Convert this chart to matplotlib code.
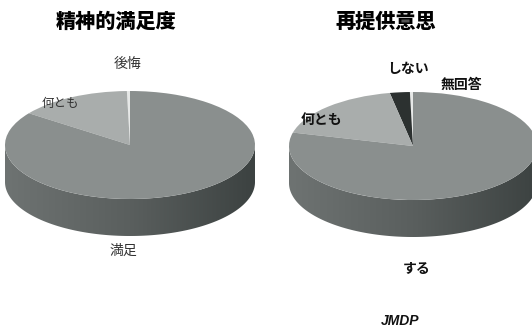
import matplotlib
matplotlib.use("Agg")
import matplotlib.pyplot as plt
import numpy as np
from matplotlib.patches import Polygon
from matplotlib.colors import LinearSegmentedColormap

plt.rcParams['font.family'] = ['Noto Sans CJK JP', 'DejaVu Sans']

W, H = 532, 329

# data
left_title = "精神的満足度"
left_labels = ["後悔", "何とも", "満足"]
left_values = [0.4, 14.6, 85.0]
left_colors = ["#e6e8e7", "#a9adac", "#8a8f8e"]

right_title = "再提供意思"
right_labels = ["無回答", "しない", "何とも", "する"]
right_values = [0.4, 2.6, 18.0, 79.0]
right_colors = ["#e6e8e7", "#2c3130", "#a9adac", "#8a8f8e"]

side_cmap = LinearSegmentedColormap.from_list("side", ["#6e7372", "#5a5f5e", "#3c4241"])


def px(x, y):
    return x / W, 1 - y / H


def pie3d(fig, cx, cy, rx, ry, thick, values, colors):
    t = thick / ry
    ax = fig.add_axes([(cx - 1.05 * rx) / W,
                       1 - (cy + (1.05 + t) * ry) / H,
                       2.1 * rx / W,
                       (2.1 + t) * ry / H])
    ax.pie(values, colors=colors, startangle=90, counterclock=True,
           radius=1.0, wedgeprops=dict(linewidth=0))
    ax.set_aspect('auto')
    ax.axis('off')

    # side of the disc (front half), shaded left to right
    th = np.linspace(np.pi, 2 * np.pi, 200)
    top = np.column_stack([np.cos(th), np.sin(th)])
    bot = np.column_stack([np.cos(th[::-1]), np.sin(th[::-1]) - t])
    side = Polygon(np.vstack([top, bot]), closed=True, facecolor="none",
                   edgecolor="none")
    ax.add_patch(side)
    grad = np.linspace(0, 1, 256).reshape(1, -1)
    im = ax.imshow(grad, cmap=side_cmap, extent=(-1, 1, -1 - t, 0),
                   aspect='auto', zorder=0.5)
    im.set_clip_path(side)
    ax.set_xlim(-1.05, 1.05)
    ax.set_ylim(-1.05 - t, 1.05)
    return ax


fig = plt.figure(figsize=(W / 100, H / 100), dpi=100)
fig.patch.set_facecolor("white")

pie3d(fig, 130, 145, 125, 54, 37, left_values, left_colors)
pie3d(fig, 413, 146, 124, 54, 37, right_values, right_colors)

# titles
fig.text(*px(116, 22), left_title, fontsize=14.5, fontweight="heavy",
         ha="center", va="center", color="black")
fig.text(*px(386, 22), right_title, fontsize=14.5, fontweight="heavy",
         ha="center", va="center", color="black")

# left labels
fig.text(*px(128, 64), left_labels[0], fontsize=10, ha="center", va="center", color="#333")
fig.text(*px(60, 103), left_labels[1], fontsize=9, ha="center", va="center", color="#333")
fig.text(*px(123, 251), left_labels[2], fontsize=10, ha="center", va="center", color="#333")

# right labels
fig.text(*px(461, 85), right_labels[0], fontsize=10, fontweight="bold", ha="center", va="center", color="#111")
fig.text(*px(408, 69), right_labels[1], fontsize=10, fontweight="bold", ha="center", va="center", color="#111")
fig.text(*px(321, 120), right_labels[2], fontsize=10, fontweight="bold", ha="center", va="center", color="#111")
fig.text(*px(417, 269), right_labels[3], fontsize=10, fontweight="bold", ha="center", va="center", color="#111")

fig.text(*px(400, 321), "JMDP", fontsize=10, fontweight="bold", fontstyle="italic",
         family="Liberation Sans", ha="center", va="center", color="#111")

fig.savefig("out.png", dpi=100)
